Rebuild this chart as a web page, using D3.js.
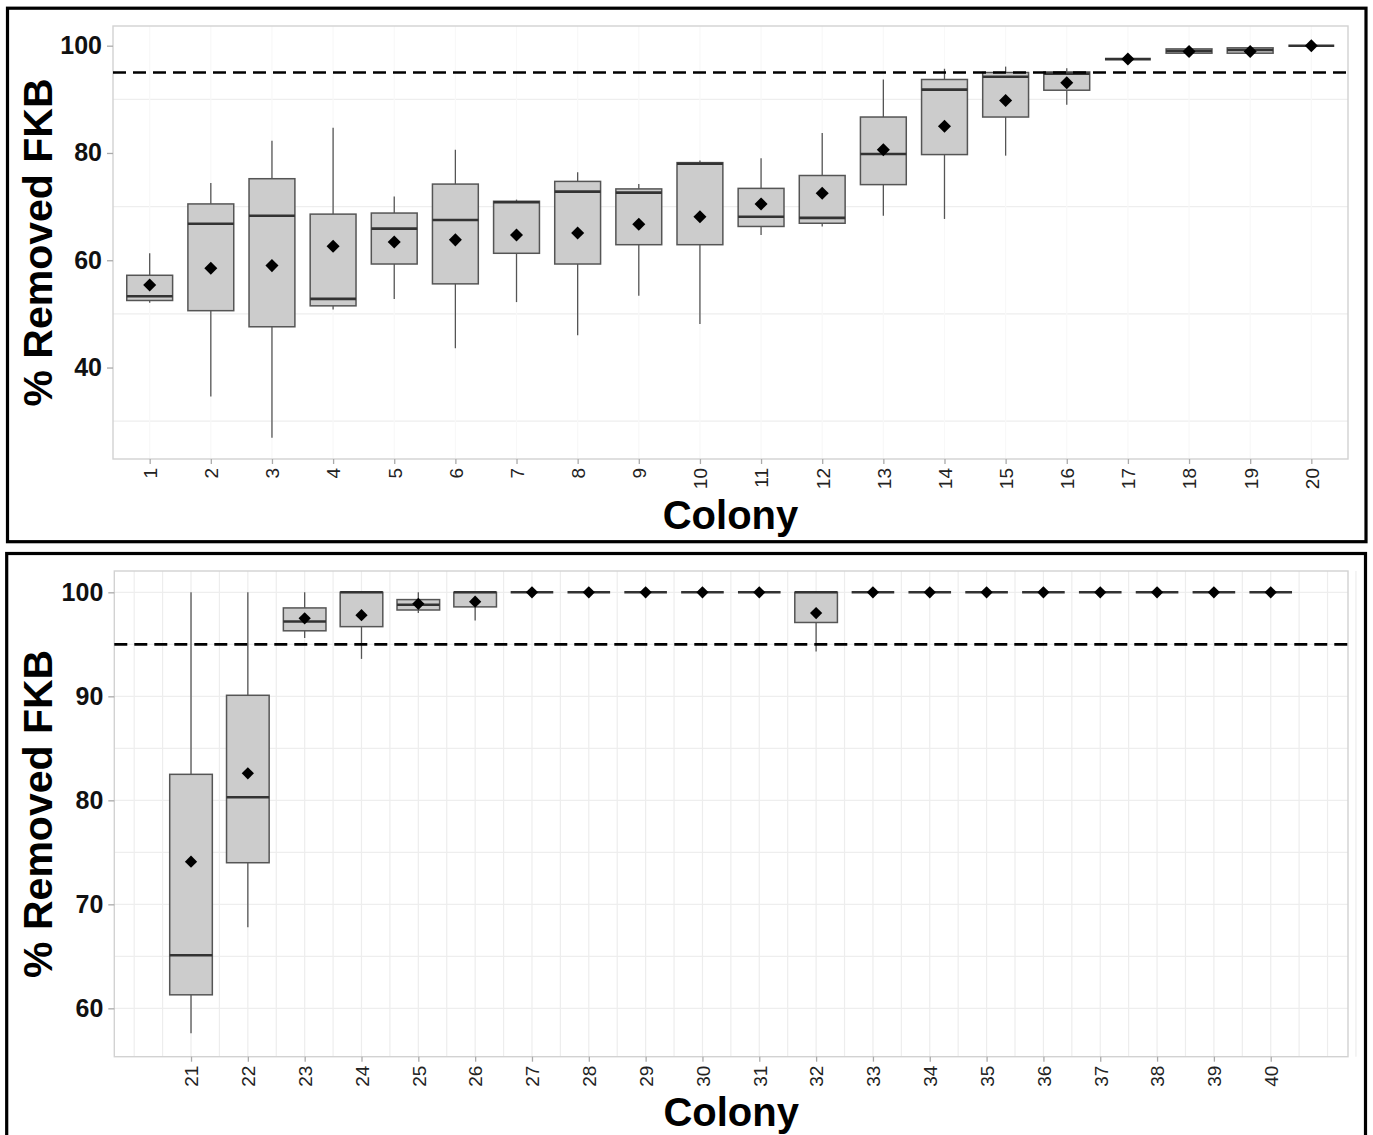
<!DOCTYPE html>
<html>
<head>
<meta charset="utf-8">
<script src="https://cdn.jsdelivr.net/npm/d3@7"></script>
<style>
body { margin: 0; background: #fff; }
text { font-family: "Liberation Sans", Arial, sans-serif; }
</style>
</head>
<body>
<svg id="chart" width="1373" height="1135"></svg>
<script>
// colonies 1-20 (top plot)
var colonies1 = [1, 2, 3, 4, 5, 6, 7, 8, 9, 10, 11, 12, 13, 14, 15, 16, 17, 18, 19, 20];
var lo1   = [52.1, 34.6, 26.9, 50.8, 52.8, 43.6, 52.2, 46.0, 53.4, 48.1, 64.7, 66.3, 68.3, 67.7, 79.5, 89.0, 97.5, 98.6, 98.6, 100];
var q1_1  = [52.5, 50.6, 47.6, 51.5, 59.3, 55.6, 61.3, 59.3, 62.9, 62.9, 66.3, 66.9, 74.1, 79.7, 86.7, 91.7, 97.5, 98.6, 98.6, 100];
var med1  = [53.3, 66.8, 68.3, 52.8, 65.9, 67.5, 70.8, 72.8, 72.6, 78.0, 68.1, 67.9, 79.8, 91.8, 94.2, 94.8, 97.5, 99.0, 99.2, 100];
var q3_1  = [57.2, 70.5, 75.2, 68.6, 68.8, 74.2, 71.0, 74.7, 73.3, 78.2, 73.4, 75.8, 86.7, 93.7, 95.0, 95.1, 97.5, 99.4, 99.6, 100];
var hi1   = [61.3, 74.4, 82.3, 84.7, 71.9, 80.6, 71.3, 76.4, 74.2, 78.6, 79.0, 83.7, 93.7, 95.7, 96.1, 95.8, 97.5, 99.4, 99.6, 100];
var mean1 = [55.4, 58.5, 59.0, 62.6, 63.4, 63.8, 64.7, 65.1, 66.7, 68.1, 70.5, 72.5, 80.6, 85.0, 89.8, 93.1, 97.5, 98.9, 98.9, 100];
var yTicks1 = [40, 60, 80, 100];

// colonies 21-40 (bottom plot)
var colonies2 = [21, 22, 23, 24, 25, 26, 27, 28, 29, 30, 31, 32, 33, 34, 35, 36, 37, 38, 39, 40];
var lo2   = [57.6, 67.8, 95.6, 93.6, 98.0, 97.3, 100, 100, 100, 100, 100, 94.3, 100, 100, 100, 100, 100, 100, 100, 100];
var q1_2  = [61.3, 74.0, 96.3, 96.7, 98.3, 98.6, 100, 100, 100, 100, 100, 97.1, 100, 100, 100, 100, 100, 100, 100, 100];
var med2  = [65.1, 80.3, 97.2, 100, 98.8, 100, 100, 100, 100, 100, 100, 100, 100, 100, 100, 100, 100, 100, 100, 100];
var q3_2  = [82.5, 90.1, 98.5, 100, 99.3, 100, 100, 100, 100, 100, 100, 100, 100, 100, 100, 100, 100, 100, 100, 100];
var hi2   = [100, 100, 100, 100, 100, 100, 100, 100, 100, 100, 100, 100, 100, 100, 100, 100, 100, 100, 100, 100];
var mean2 = [74.1, 82.6, 97.5, 97.8, 98.9, 99.1, 100, 100, 100, 100, 100, 98.0, 100, 100, 100, 100, 100, 100, 100, 100];
var yTicks2 = [60, 70, 80, 90, 100];

var threshold = 95;

var svg = d3.select("#chart");

function drawPanel(p) {
	var g = svg.append("g");

	// black frame round each figure
	g.append("rect")
		.attr("x", p.frame[0]).attr("y", p.frame[1])
		.attr("width", p.frame[2]).attr("height", p.frame[3])
		.attr("fill", "none").attr("stroke", "#000").attr("stroke-width", 3.2);

	var x = d3.scaleLinear().domain(p.xDomain).range([p.left, p.right]);
	var y = d3.scaleLinear().domain(p.yDomain).range([p.bottom, p.top]);

	// grid
	g.selectAll(".hgrid").data(p.hGrid).enter().append("line")
		.attr("x1", p.left).attr("x2", p.right)
		.attr("y1", function(d){ return y(d); }).attr("y2", function(d){ return y(d); })
		.attr("stroke", "#eeeeee").attr("stroke-width", 1.2);
	g.selectAll(".vgrid").data(p.vGrid).enter().append("line")
		.attr("y1", p.top).attr("y2", p.bottom)
		.attr("x1", function(d){ return x(d); }).attr("x2", function(d){ return x(d); })
		.attr("stroke", p.vGridColor).attr("stroke-width", 1.2);

	g.append("rect")
		.attr("x", p.left).attr("y", p.top)
		.attr("width", p.right - p.left).attr("height", p.bottom - p.top)
		.attr("fill", "none").attr("stroke", "#d2d2d2").attr("stroke-width", 1.4);

	// axes
	var yAxis = g.append("g")
		.attr("transform", "translate(" + p.left + ",0)")
		.call(d3.axisLeft(y).tickValues(p.yTicks).tickSize(6).tickPadding(5));
	yAxis.select(".domain").remove();
	yAxis.selectAll("line").attr("stroke", "#aaa").attr("stroke-width", 1.3);
	yAxis.selectAll("text")
		.attr("font-size", 25).attr("font-weight", "bold").attr("fill", "#111")
		.style("font-family", "'Liberation Sans', Arial, sans-serif");

	var xAxis = g.append("g")
		.attr("transform", "translate(0," + p.bottom + ")")
		.call(d3.axisBottom(x).tickValues(p.colonies).tickFormat(d3.format("d")).tickSize(5));
	xAxis.select(".domain").remove();
	xAxis.selectAll("line").attr("stroke", "#aaa").attr("stroke-width", 1.3);
	xAxis.selectAll("text")
		.attr("transform", "rotate(-90)")
		.attr("text-anchor", "end")
		.attr("x", -9).attr("y", 0).attr("dy", "0.36em")
		.attr("font-size", 19).attr("fill", "#222")
		.style("font-family", "'Liberation Sans', Arial, sans-serif");

	// titles
	g.append("text")
		.attr("transform", "translate(52," + ((p.top + p.bottom) / 2) + ") rotate(-90)")
		.attr("text-anchor", "middle")
		.attr("font-size", 41).attr("font-weight", "bold")
		.text("% Removed FKB");
	g.append("text")
		.attr("x", (p.left + p.right) / 2).attr("y", p.titleY)
		.attr("text-anchor", "middle")
		.attr("font-size", 40).attr("font-weight", "bold")
		.text("Colony");

	var rows = p.colonies.map(function(c, i){
		return { c: c, lo: p.lo[i], q1: p.q1[i], med: p.med[i], q3: p.q3[i], hi: p.hi[i], mean: p.mean[i] };
	});
	var half = (x(1) - x(0)) * 0.375;

	var box = g.selectAll(".box").data(rows).enter().append("g");
	box.append("line")
		.attr("x1", function(d){ return x(d.c); }).attr("x2", function(d){ return x(d.c); })
		.attr("y1", function(d){ return y(d.hi); }).attr("y2", function(d){ return y(d.q3); })
		.attr("stroke", "#555").attr("stroke-width", 1.3);
	box.append("line")
		.attr("x1", function(d){ return x(d.c); }).attr("x2", function(d){ return x(d.c); })
		.attr("y1", function(d){ return y(d.q1); }).attr("y2", function(d){ return y(d.lo); })
		.attr("stroke", "#555").attr("stroke-width", 1.3);
	box.append("rect")
		.attr("x", function(d){ return x(d.c) - half; })
		.attr("y", function(d){ return y(d.q3); })
		.attr("width", half * 2)
		.attr("height", function(d){ return y(d.q1) - y(d.q3); })
		.attr("fill", "#cccccc").attr("stroke", "#555").attr("stroke-width", 1.5);
	box.append("line")
		.attr("x1", function(d){ return x(d.c) - half; }).attr("x2", function(d){ return x(d.c) + half; })
		.attr("y1", function(d){ return y(d.med); }).attr("y2", function(d){ return y(d.med); })
		.attr("stroke", "#333").attr("stroke-width", 2.6);

	// 95% line
	g.append("line")
		.attr("x1", p.left).attr("x2", p.right)
		.attr("y1", y(threshold)).attr("y2", y(threshold))
		.attr("stroke", "#000").attr("stroke-width", 2.7)
		.attr("stroke-dasharray", "13,7");

	// means
	g.selectAll(".mean").data(rows).enter().append("path")
		.attr("d", d3.symbol(d3.symbolSquare, p.diamond)())
		.attr("transform", function(d){ return "translate(" + x(d.c) + "," + y(d.mean) + ") rotate(45)"; })
		.attr("fill", "#000");
}

drawPanel({
	frame: [7.5, 8.2, 1358.5, 533.5],
	left: 113, right: 1348, top: 26, bottom: 459,
	xDomain: [0.4, 20.6], yDomain: [22.95, 103.67],
	colonies: colonies1, lo: lo1, q1: q1_1, med: med1, q3: q3_1, hi: hi1, mean: mean1,
	yTicks: yTicks1, hGrid: [30, 50, 70, 90], vGrid: colonies1, vGridColor: "#f8f8f8",
	titleY: 529, diamond: 85
});

drawPanel({
	frame: [6.7, 553.5, 1358.8, 584],
	left: 114.3, right: 1348, top: 571, bottom: 1056.7,
	xDomain: [19.65, 41.36], yDomain: [55.35, 102.05],
	colonies: colonies2, lo: lo2, q1: q1_2, med: med2, q3: q3_2, hi: hi2, mean: mean2,
	yTicks: yTicks2, hGrid: d3.range(60, 101, 5),
	vGrid: d3.range(20, 41.6, 0.5), vGridColor: "#ededed",
	titleY: 1126, diamond: 75
});
</script>
</body>
</html>
